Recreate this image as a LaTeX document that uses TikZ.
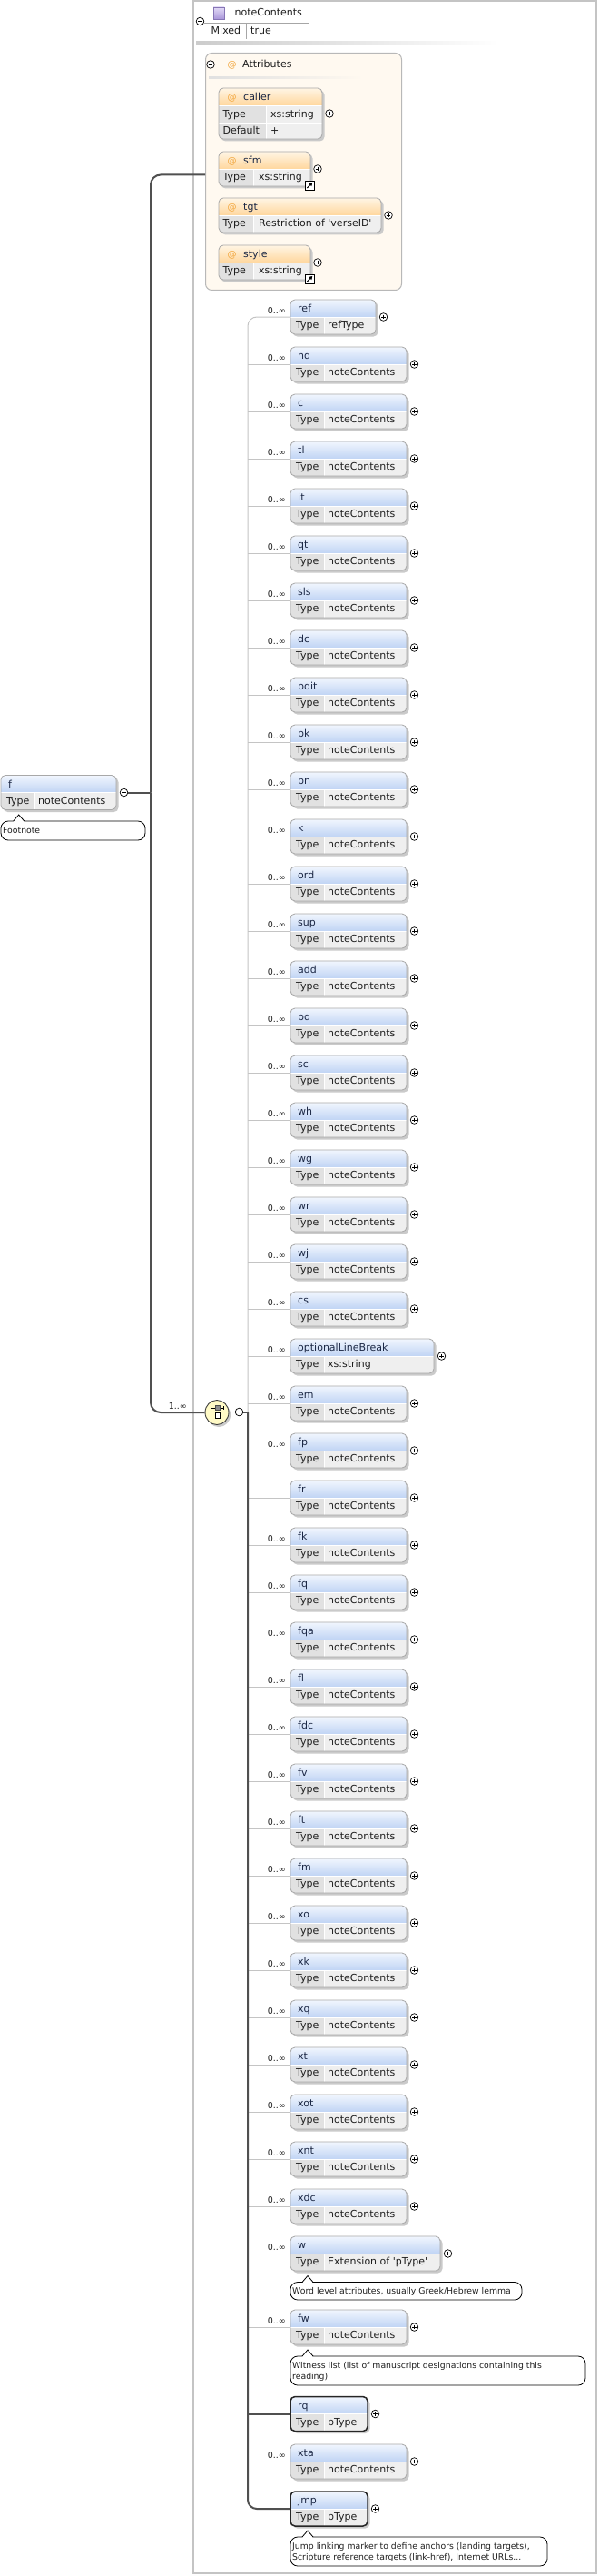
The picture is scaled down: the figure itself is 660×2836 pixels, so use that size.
\documentclass[tikz,border=0pt]{standalone}
\usepackage{fontspec}
\setmainfont{DejaVu Sans}
\usetikzlibrary{shapes.geometric,calc,arrows.meta}

\definecolor{hdtop}{HTML}{F1F6FE}
\definecolor{hdbot}{HTML}{C0D4F4}
\definecolor{typecell}{HTML}{E1E1E1}
\definecolor{valcell}{HTML}{EFEFEF}
\definecolor{bordc}{HTML}{A8A8A8}
\definecolor{shadc}{HTML}{CACACA}
\definecolor{attop}{HTML}{FFF5E4}
\definecolor{atbot}{HTML}{FFD79E}
\definecolor{atfill}{HTML}{FFF9F0}
\definecolor{atsign}{HTML}{F2A53A}
\definecolor{mainc}{HTML}{505050}
\definecolor{thinc}{HTML}{C4C4C4}
\definecolor{framec}{HTML}{C4C4C4}
\definecolor{txtc}{HTML}{1E1E1E}
\definecolor{namec}{HTML}{1B2744}
\definecolor{choicefill}{HTML}{FFFAC6}
\definecolor{purtop}{HTML}{E2DAF6}
\definecolor{purbot}{HTML}{A996DA}
\definecolor{purbd}{HTML}{8675B5}

\newcommand\fsN{\fontsize{11}{13}\selectfont}
\newcommand\fsS{\fontsize{9.3}{12}\selectfont}
\newcommand\fsO{\fontsize{9.5}{11}\selectfont}
\newcommand\fsA{\fontsize{10}{12}\selectfont}

\tikzset{
  txt/.style={inner sep=0, font=\fsN, text=txtc, anchor=base west},
  nm/.style={txt, text=namec},
  atsym/.style={inner sep=0, font=\fsA, text=atsign, anchor=base west},
  occ/.style={inner sep=0, font=\fsO, text=txtc, anchor=base east},
  anntxt/.style={inner sep=0, font=\fsS, text=txtc, anchor=base west},
  pmc/.style={circle, draw=black, fill=white, line width=0.7pt, minimum size=8.6pt, inner sep=0},
  pmplus/.style={pmc, path picture={\draw[line width=0.7pt]
      ($(path picture bounding box.center)+(-2.4,0)$) -- ++(4.8,0)
      ($(path picture bounding box.center)+(0,-2.4)$) -- ++(0,4.8);}},
  pmminus/.style={pmc, path picture={\draw[line width=0.7pt]
      ($(path picture bounding box.center)+(-2.4,0)$) -- ++(4.8,0);}},
  elbox/.style={rectangle, draw=bordc, line width=0.8pt, rounded corners=5, inner sep=0, minimum height=38},
  boldbox/.style={rectangle, draw=black!85, line width=1.5pt, rounded corners=5, inner sep=0, minimum height=38},
  mainline/.style={draw=mainc, line width=2pt},
  thinline/.style={draw=thinc, line width=1pt},
  annl/.style={draw=black, line width=0.8pt},
}

% element: #1 id, #2 x, #3 top, #4 width, #5 name, #6 type, #7 occurrence, #8 box style, #9 sign style
\newcommand\xel[9]{%
  \fill[shadc, rounded corners=5] (#2+2.5,#3+2.5) rectangle ++(#4,38);
  \begin{scope}
    \clip[rounded corners=5] (#2,#3) rectangle ++(#4,38);
    \shade[top color=hdtop, bottom color=hdbot] (#2,#3) rectangle ++(#4,19);
    \fill[typecell] (#2,#3+19) rectangle (#2+37,#3+38);
    \fill[valcell] (#2+37,#3+19) rectangle (#2+#4,#3+38);
    \draw[white, line width=0.8pt] (#2,#3+19) -- ++(#4,0) (#2+37,#3+19) -- ++(0,19);
  \end{scope}
  \node[#8, minimum width=#4] (#1) at (#2+#4/2,#3+19) {};
  \node[nm] (#1-n) at (#2+8,#3+13.5) {#5};
  \node[txt] (#1-t) at (#2+6,#3+31.5) {Type};
  \node[txt] (#1-v) at (#2+41,#3+31.5) {#6};
  \node[#9] (#1-x) at (#2+#4+8.5,#3+19) {};
  \if\relax\detokenize{#7}\relax\else\node[occ] (#1-o) at (#2-5,#3+15) {#7};\fi
}
\newcommand\nc[2]{\xel{e-#1}{320}{#2}{128}{#1}{noteContents}{0..∞}{elbox}{pmplus}}

% attribute: #1 id, #2 top, #3 width, #4 sep offset, #5 name, #6 type
\newcommand\xatt[6]{%
  \fill[shadc, rounded corners=5] (243.5,#2+2.5) rectangle ++(#3,38);
  \begin{scope}
    \clip[rounded corners=5] (241,#2) rectangle ++(#3,38);
    \shade[top color=attop, bottom color=atbot] (241,#2) rectangle ++(#3,19);
    \fill[typecell] (241,#2+19) rectangle (241+#4,#2+38);
    \fill[valcell] (241+#4,#2+19) rectangle (241+#3,#2+38);
    \draw[white, line width=0.8pt] (241,#2+19) -- ++(#3,0) (241+#4,#2+19) -- ++(0,19);
  \end{scope}
  \node[elbox, minimum width=#3] (#1) at (241+#3/2,#2+19) {};
  \node[atsym] (#1-a) at (250.5,#2+13.5) {@};
  \node[nm] (#1-n) at (268,#2+13.5) {#5};
  \node[txt] (#1-t) at (245.5,#2+31.5) {Type};
  \node[txt] (#1-v) at (241+#4+6,#2+31.5) {#6};
  \node[pmplus] (#1-x) at (249+#3,#2+19) {};
}
\newcommand\xsc[2]{%
  \draw[black, fill=white, line width=0.6pt] (#1,#2) rectangle ++(10,10);
  \draw[line width=1.1pt, -{Triangle[length=3.6pt,width=4.2pt]}] (#1+2.3,#2+8) -- (#1+8.3,#2+2);
}
% annotation: #1 x, #2 top, #3 width, #4 height, #5 pointer x
\newcommand\xann[5]{%
  \draw[annl, fill=white, rounded corners=8] (#1,#2) rectangle ++(#3,#4);
  \fill[white] (#5-6,#2+0.8) -- (#5,#2-7) -- (#5+6,#2+0.8) -- cycle;
  \draw[annl] (#5-6,#2) -- (#5,#2-7) -- (#5+6,#2);
}

\begin{document}
\begin{tikzpicture}[x=1pt,y=-1pt]
\useasboundingbox (0,0) rectangle (660,2836);
\fill[white] (0,0) rectangle (660,2836);

% complex type frame
\draw[framec, line width=1.5pt] (213,1) rectangle (657,2833);

% header
\shadedraw[top color=purtop, bottom color=purbot, draw=purbd, line width=0.6pt] (235,8) rectangle (247,21);
\node[txt] (hd-n) at (258.5,18) {noteContents};
\draw[black!35, line width=0.8pt] (225,25.5) -- (341,25.5);
\node[pmminus] (hd-x) at (220.5,23.5) {};
\node[txt] (hd-m) at (232.5,38) {Mixed};
\draw[black!35, line width=0.8pt] (271,26) -- (271,43);
\node[txt] (hd-t) at (276,38) {true};
\shade[left color=black!20, right color=white] (216,45.8) rectangle (550,48.3);

% attributes box
\node[draw=black!28, line width=1pt, fill=atfill, rounded corners=7, minimum width=216, minimum height=261, inner sep=0, anchor=north west] (attrs) at (226,58) {};
\node[pmminus] (at-x) at (232,71) {};
\node[atsym] (at-a) at (250.5,75) {@};
\node[txt] (at-n) at (267,75) {Attributes};
\shade[left color=black!12, right color=atfill] (230,84.3) rectangle (400,86.3);

% caller
\fill[shadc, rounded corners=5] (243.5,99.5) rectangle ++(114,56);
\begin{scope}
  \clip[rounded corners=5] (241,97) rectangle ++(114,56);
  \shade[top color=attop, bottom color=atbot] (241,97) rectangle ++(114,19);
  \fill[typecell] (241,116) rectangle (293,153);
  \fill[valcell] (293,116) rectangle (355,153);
  \draw[white, line width=0.8pt] (241,116) -- ++(114,0) (241,135) -- ++(114,0) (293,116) -- (293,153);
\end{scope}
\node[elbox, minimum width=114, minimum height=56] (a-caller) at (298,125) {};
\node[atsym] (a-caller-a) at (250.5,110.5) {@};
\node[nm] (a-caller-n) at (268,110.5) {caller};
\node[txt] (a-caller-t) at (245.5,129.5) {Type};
\node[txt] (a-caller-v) at (298,129.5) {xs:string};
\node[txt] (a-caller-d) at (245.5,148) {Default};
\node[txt] (a-caller-dv) at (298,148) {+};
\node[pmplus] (a-caller-x) at (363,125) {};

\xatt{a-sfm}{167}{101}{38}{sfm}{xs:string}
\xsc{336}{199}
\xatt{a-tgt}{218}{179}{38}{tgt}{Restriction of \textquotesingle verseID\textquotesingle}
\xatt{a-style}{270}{101}{38}{style}{xs:string}
\xsc{336}{302}

% root element f
\xel{f}{1}{853.5}{127}{f}{noteContents}{}{elbox}{pmminus}
\xann{1}{904}{159}{21}{20.7}
\node[anntxt] (f-ann) at (3,917.5) {Footnote};

% compositor
\fill[shadc] (241,1557.5) ellipse [x radius=13, y radius=13.5];
\node[ellipse, draw=black!75, fill=choicefill, line width=0.9pt, minimum width=26, minimum height=27, inner sep=0] (ch) at (239,1555) {};
\draw[line width=0.6pt] (232.5,1550) -- (246,1550) (232.5,1548) -- (232.5,1552) (246,1548) -- (246,1552);
\filldraw[fill=black!45, draw=black!70, line width=0.5pt] (236.8,1547.3) rectangle (241.8,1552.5);
\filldraw[fill=white, draw=black, line width=0.6pt] (236.8,1555) rectangle (241.8,1561.5);
\node[pmminus] (ch-x) at (263.5,1554.5) {};
\node[occ] (ch-o) at (206,1551) {1..∞};

% children
\xel{e-ref}{320}{330}{94}{ref}{refType}{0..∞}{elbox}{pmplus}
\nc{nd}{382}
\nc{c}{434}
\nc{tl}{486}
\nc{it}{538}
\nc{qt}{590}
\nc{sls}{642}
\nc{dc}{694}
\nc{bdit}{746}
\nc{bk}{798}
\nc{pn}{850}
\nc{k}{902}
\nc{ord}{954}
\nc{sup}{1006}
\nc{add}{1058}
\nc{bd}{1110}
\nc{sc}{1162}
\nc{wh}{1214}
\nc{wg}{1266}
\nc{wr}{1318}
\nc{wj}{1370}
\nc{cs}{1422}
\xel{e-optionalLineBreak}{320}{1474}{158}{optionalLineBreak}{xs:string}{0..∞}{elbox}{pmplus}
\nc{em}{1526}
\nc{fp}{1578}
\xel{e-fr}{320}{1630}{128}{fr}{noteContents}{}{elbox}{pmplus}
\nc{fk}{1682}
\nc{fq}{1734}
\nc{fqa}{1786}
\nc{fl}{1838}
\nc{fdc}{1890}
\nc{fv}{1942}
\nc{ft}{1994}
\nc{fm}{2046}
\nc{xo}{2098}
\nc{xk}{2150}
\nc{xq}{2202}
\nc{xt}{2254}
\nc{xot}{2306}
\nc{xnt}{2358}
\nc{xdc}{2410}
\xel{e-w}{320}{2462}{165}{w}{Extension of \textquotesingle pType\textquotesingle}{0..∞}{elbox}{pmplus}
\xann{320}{2512.5}{255}{19.5}{339}
\node[anntxt] (w-ann) at (322,2525.3) {Word level attributes, usually Greek/Hebrew lemma};
\nc{fw}{2543}
\xann{320}{2594}{325}{32}{339}
\node[anntxt] (fw-ann1) at (322,2607) {Witness list (list of manuscript designations containing this};
\node[anntxt] (fw-ann2) at (322,2619.6) {reading)};
\xel{e-rq}{320}{2638.5}{85}{rq}{pType}{}{boldbox}{pmplus}
\nc{xta}{2691}
\xel{e-jmp}{320}{2743}{85}{jmp}{pType}{}{boldbox}{pmplus}
\xann{320}{2793}{283}{32}{339}
\node[anntxt] (jmp-ann1) at (322,2806) {Jump linking marker to define anchors (landing targets),};
\node[anntxt] (jmp-ann2) at (322,2818.6) {Scripture reference targets (link-href), Internet URLs...};

% connectors
\coordinate (sj) at (273,1554.5);
\foreach \i in {nd,c,tl,it,qt,sls,dc,bdit,bk,pn,k,ord,sup,add,bd,sc,wh,wg,wr,wj,cs,optionalLineBreak,em,fp,fr,fk,fq,fqa,fl,fdc,fv,ft,fm,xo,xk,xq,xt,xot,xnt,xdc,w,fw,xta}
  {\draw[thinline] (e-\i.west) -- (e-\i.west -| sj);}
\draw[thinline, rounded corners=10] (sj) |- (e-ref.west);
\draw[mainline] (ch-x.east) -- (sj);
\draw[mainline, rounded corners=10] (sj) |- (e-jmp.west);
\draw[mainline] (sj |- e-rq.west) -- (e-rq.west);

\coordinate (fj) at (166,872.5);
\draw[mainline] (f-x.east) -- (fj);
\draw[mainline, rounded corners=11] (fj) |- ($(attrs.west)+(0,3.5)$);
\draw[mainline, rounded corners=11] (fj) |- (ch.west);
\end{tikzpicture}
\end{document}
